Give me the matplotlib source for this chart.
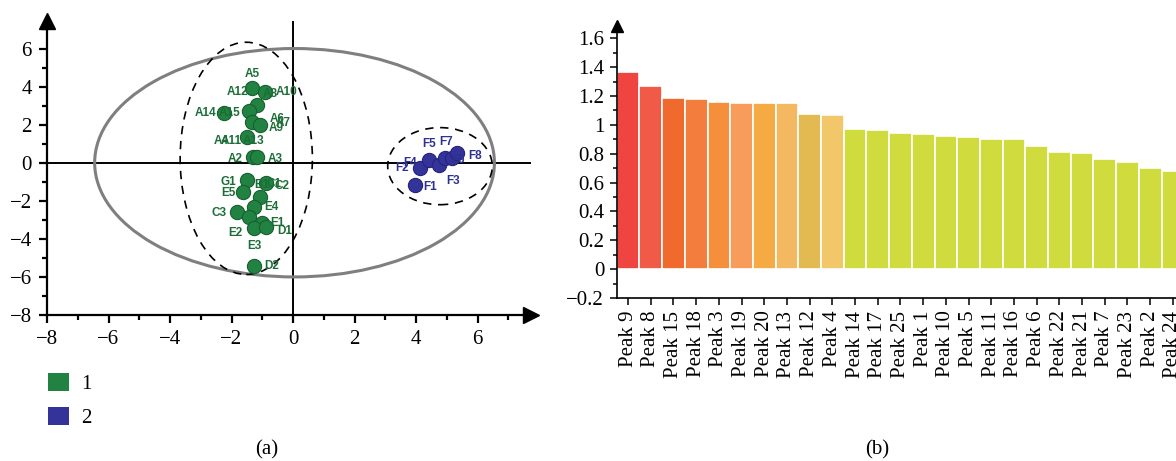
import matplotlib
matplotlib.use("Agg")
import matplotlib.pyplot as plt
from matplotlib.patches import Ellipse, Patch
from matplotlib.ticker import MultipleLocator

# ---------------- data ----------------
g1_x = [-1.33, -0.91, -1.17, -1.43, -2.24, -1.33, -1.07, -1.50, -1.30, -1.17,
        -1.50, -1.63, -0.88, -1.07, -1.27, -1.82, -1.43, -1.01, -1.27, -0.88, -1.27]
g1_y = [3.93, 3.72, 3.04, 2.73, 2.62, 2.15, 1.99, 1.36, 0.31, 0.31,
        -0.89, -1.52, -1.05, -1.78, -2.31, -2.57, -2.83, -3.15, -3.41, -3.36, -5.40]
g1_labels = ["A5", "A12", "A8", "A10", "A14", "A15", "A6", "A7", "A9", "A4", "A11",
             "A13", "A2", "A3", "G1", "E5", "B1", "C1", "C2", "E4", "C3", "E1",
             "D1", "E2", "E3", "D2"]
g1_label_x = [-1.33, -1.82, -0.75, -0.2, -2.86, -2.05, -0.52, -0.33, -0.55, -2.35, -2.0,
              -1.30, -1.89, -0.59, -2.11, -2.11, -1.0, -0.62, -0.36, -0.7, -2.4, -0.49,
              -0.26, -1.89, -1.27, -0.68]
g1_label_y = [4.67, 3.72, 3.62, 3.7, 2.62, 2.62, 2.3, 2.1, 1.84, 1.15, 1.15,
              1.15, 0.21, 0.21, -1.0, -1.57, -1.15, -1.1, -1.2, -2.3, -2.64, -3.15,
              -3.57, -3.67, -4.4, -5.45]

g2_x = [3.97, 4.13, 4.42, 4.75, 4.94, 5.17, 5.33]
g2_y = [-1.15, -0.26, 0.16, -0.10, 0.26, 0.26, 0.52]
g2_labels = ["F1", "F2", "F4", "F5", "F7", "F6", "F8", "F3"]
g2_label_x = [4.46, 3.54, 3.8, 4.42, 4.98, 5.37, 5.92, 5.2]
g2_label_y = [-1.25, -0.26, 0.0, 1.0, 1.1, 0.16, 0.37, -0.94]

peaks = ["Peak 9", "Peak 8", "Peak 15", "Peak 18", "Peak 3", "Peak 19", "Peak 20",
         "Peak 13", "Peak 12", "Peak 4", "Peak 14", "Peak 17", "Peak 25", "Peak 1",
         "Peak 10", "Peak 5", "Peak 11", "Peak 16", "Peak 6", "Peak 22", "Peak 21",
         "Peak 7", "Peak 23", "Peak 2", "Peak 24"]
vip = [1.365, 1.27, 1.186, 1.179, 1.16, 1.153, 1.151, 1.149, 1.075, 1.066,
       0.972, 0.966, 0.944, 0.935, 0.921, 0.914, 0.902, 0.900, 0.854, 0.815,
       0.803, 0.760, 0.741, 0.700, 0.681]
bar_colors = ["#ef4440", "#f05a46", "#f06a2e", "#f27d3c", "#f58f3c", "#f79c5a",
              "#f6aa44", "#f4b960", "#e3ba52", "#f1c76a"] + ["#d0dc3e"] * 15

GREEN = "#218241"
GREEN_EDGE = "#17602f"
GREEN_TXT = "#1b6e36"
BLUE = "#33339a"
BLUE_EDGE = "#25257a"
BLUE_TXT = "#2e3192"

serif = "Liberation Serif"
FS = 15
plt.rcParams["font.family"] = serif
plt.rcParams["font.size"] = FS

fig = plt.figure(figsize=(11.76, 4.61), dpi=100)

# ---------------- panel (a) ----------------
ax = fig.add_axes([47 / 1176, 1 - 315 / 461, (531 - 47) / 1176, (315 - 21) / 461])
ax.set_xlim(-8, (531 - 293) / 30.75)
ax.set_ylim(-8, (163 - 21) / 19.07)
for s in ["top", "right"]:
    ax.spines[s].set_visible(False)
for s in ["left", "bottom"]:
    ax.spines[s].set_linewidth(1.6)
ax.set_xticks([-8, -6, -4, -2, 0, 2, 4, 6])
ax.set_yticks([-8, -6, -4, -2, 0, 2, 4, 6])
ax.set_xticklabels(["\u22128", "\u22126", "\u22124", "\u22122", "0", "2", "4", "6"])
ax.set_yticklabels(["\u22128", "\u22126", "\u22124", "\u22122", "0", "2", "4", "6"])
ax.xaxis.set_minor_locator(MultipleLocator(1))
ax.yaxis.set_minor_locator(MultipleLocator(1))
ax.tick_params(which="major", length=6, width=1.6, direction="out", pad=5)
ax.tick_params(which="minor", length=3.5, width=1.6, direction="out")
# arrow heads
ax.plot(0, 1, marker="^", color="k", markersize=11, transform=ax.transAxes, clip_on=False)
ax.plot(1, 0, marker=">", color="k", markersize=11, transform=ax.transAxes, clip_on=False)
# center lines
ax.axhline(0, color="k", lw=1.4, zorder=1)
ax.axvline(0, color="k", lw=1.4, zorder=1)

ax.add_patch(Ellipse((0.05, 0.0), 13.0, 12.0, fill=False, ec="#7f7f7f", lw=2.2, zorder=2))
ax.add_patch(Ellipse((-1.52, 0.23), 4.3, 12.2, fill=False, ec="k", lw=1.2,
                     ls=(0, (5, 4)), zorder=2))
ax.add_patch(Ellipse((4.78, -0.18), 3.4, 4.05, fill=False, ec="k", lw=1.2,
                     ls=(0, (5, 4)), zorder=2))

ax.scatter(g1_x, g1_y, s=105, c=GREEN, edgecolors=GREEN_EDGE, linewidths=0.8, zorder=4)
ax.scatter(g2_x, g2_y, s=105, c=BLUE, edgecolors=BLUE_EDGE, linewidths=0.8, zorder=4)
for t, x, y in zip(g1_labels, g1_label_x, g1_label_y):
    ax.text(x, y, t, color=GREEN_TXT, fontsize=8.5, fontweight="bold",
            family="Liberation Sans", ha="center", va="center", zorder=5)
for t, x, y in zip(g2_labels, g2_label_x, g2_label_y):
    ax.text(x, y, t, color=BLUE_TXT, fontsize=8.5, fontweight="bold",
            family="Liberation Sans", ha="center", va="center", zorder=5)

handles = [Patch(facecolor=GREEN, edgecolor="none"), Patch(facecolor=BLUE, edgecolor="none")]
fig.legend(handles, ["1", "2"], loc="upper left", bbox_to_anchor=(29 / 1176, 1 - 354 / 461),
           frameon=False, handlelength=1.0, handleheight=1.0, handletextpad=0.6,
           labelspacing=0.6, fontsize=FS)

fig.text(267 / 1176, 1 - 450 / 461, "(a)", ha="center", va="center", fontsize=FS)
fig.text(877 / 1176, 1 - 450 / 461, "(b)", ha="center", va="center", fontsize=FS)

# ---------------- panel (b) ----------------
bx = fig.add_axes([616.7 / 1176, 1 - 298 / 461, 567.5 / 1176, (298 - 26) / 461])
xpos = list(range(len(peaks)))
bx.bar(xpos, vip, width=1.0, color=bar_colors, edgecolor="white", linewidth=1.2, zorder=2)
bx.set_xlim(-0.5, len(peaks) - 0.5)
bx.set_ylim(-0.2, (270 - 26) / 144.8)
for s in ["top", "right"]:
    bx.spines[s].set_visible(False)
for s in ["left", "bottom"]:
    bx.spines[s].set_linewidth(1.2)
bx.set_yticks([-0.2, 0, 0.2, 0.4, 0.6, 0.8, 1.0, 1.2, 1.4, 1.6])
bx.set_yticklabels(["\u22120.2", "0", "0.2", "0.4", "0.6", "0.8", "1", "1.2", "1.4", "1.6"])
bx.yaxis.set_minor_locator(MultipleLocator(0.1))
bx.set_xticks(xpos)
bx.set_xticklabels(peaks, rotation=90)
bx.tick_params(which="major", length=5, width=1.1, direction="out", pad=4)
bx.tick_params(which="minor", length=3, width=1.1, direction="out")
bx.plot(0, 1, marker="^", color="k", markersize=8, transform=bx.transAxes, clip_on=False)

fig.savefig("out.png", dpi=100)
